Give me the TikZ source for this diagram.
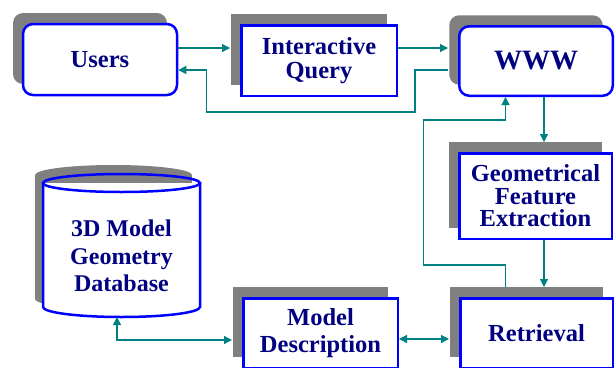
\documentclass[tikz,border=0pt]{standalone}
\usepackage{fontspec}
\setmainfont{Liberation Serif}
\usetikzlibrary{arrows.meta,shadows,calc}
\definecolor{navy}{RGB}{0,0,128}
\definecolor{bborder}{RGB}{0,0,255}
\definecolor{conn}{RGB}{0,128,128}
\definecolor{shad}{RGB}{128,128,128}
\begin{document}
\begin{tikzpicture}[x=1pt,y=-1pt,
  >={Triangle[length=8pt,width=8pt]},
  box/.style={draw=bborder, line width=2.5pt, fill=white, text=navy,
    font=\fontsize{24.5}{24.5}\selectfont\bfseries, align=center, inner sep=0pt,
    general shadow={fill=shad, shadow xshift=-10pt, shadow yshift=11pt}},
  rbox/.style={box, rounded corners=10pt},
  link/.style={draw=conn, line width=1.2pt},
  dbtext/.style={text=navy, font=\fontsize{24}{27.5}\selectfont\bfseries, align=center, inner sep=0pt}
]
\useasboundingbox (0,0) rectangle (616,367);
\clip (0,0) rectangle (616,367);

% database cylinder
\fill[shad] (35,175) rectangle (192,299);
\fill[shad] (113.5,175) ellipse [x radius=78.5, y radius=10];
\fill[shad] (113.5,299) ellipse [x radius=78.5, y radius=10];
\fill[white] (43,183) rectangle (200,307);
\fill[white] (121.5,307) ellipse [x radius=78.5, y radius=10];
\draw[bborder, line width=2.5pt] (43,183) -- (43,307)
  .. controls (43,312.52) and (78.1,317) .. (121.5,317)
  .. controls (164.9,317) and (200,312.52) .. (200,307) -- (200,183);
\draw[bborder, line width=2.5pt] (121.5,183) ellipse [x radius=78.5, y radius=9];
\node[dbtext] (db) at (121.5,256) {3D Model\\Geometry\\Database};
\coordinate (dbb) at (117,317);

% boxes
\node[rbox, minimum width=154pt, minimum height=71pt] (users) at (100,59.5) {Users};
\node[box, minimum width=155.5pt, minimum height=70.5pt] (iq) at (319,60.5) {Interactive\\Query};
\node[rbox, minimum width=153.5pt, minimum height=69.5pt, font=\fontsize{28}{28}\selectfont\bfseries] (www) at (536,61) {WWW};
\node[box, minimum width=152.5pt, minimum height=85.5pt, font=\fontsize{24.5}{22.5}\selectfont\bfseries] (gfe) at (535.5,196) {Geometrical\\Feature\\Extraction};
\node[box, minimum width=152.5pt, minimum height=69.5pt] (retr) at (536.5,333) {Retrieval};
\node[box, minimum width=154.5pt, minimum height=69.5pt, font=\fontsize{24.5}{27}\selectfont\bfseries] (md) at (320.5,333) {Model\\Description};

% helper coordinates
\coordinate (iqsw) at ($(iq.west)+(-10,0)$);
\coordinate (wwwsw) at ($(www.west)+(-10,0)$);
\coordinate (retrsw) at ($(retr.west)+(-10,0)$);
\coordinate (u1) at ($(users.east)+(0,-11.5)$);
\coordinate (i2) at ($(iq.east)+(0,-12.5)$);
\coordinate (w3) at ($(www.west)+(-10,9)$);
\coordinate (u3) at ($(users.east)+(0,10.5)$);
\coordinate (r4) at ($(retr.north)+(-31,-10)$);
\coordinate (w5) at ($(www.south)+(8,0)$);
\coordinate (g5) at ($(gfe.north)+(0,-10)$);
\coordinate (g6) at ($(gfe.south)+(8.5,0)$);
\coordinate (m7) at ($(md.east)+(0,6)$);
\coordinate (mdsw) at ($(md.west)+(-10,7)$);

% connectors
\draw[link,->] (u1) -- (u1 -| iqsw);
\draw[link,->] (i2) -- (i2 -| wwwsw);
\draw[link,->] (w3) -- ++(-33,0) -- ++(0,42) -| ($(u3)+(28,0)$) -- (u3);
\draw[link,->] (r4) -- ++(0,-22) -- ++(-82,0) -- ++(0,-145) -- ++(82,0) -- (r4 |- www.south);
\draw[link,->] (w5) -- (w5 |- g5);
\draw[link,->] (g6) -- (g6 |- r4);
\draw[link,<->] (m7) -- (m7 -| retrsw);
\draw[link,<->] (dbb) |- (mdsw);
\end{tikzpicture}
\end{document}
